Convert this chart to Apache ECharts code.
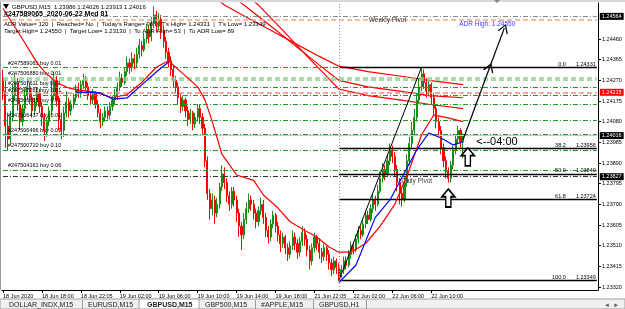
<!DOCTYPE html>
<html><head><meta charset="utf-8">
<script src="https://cdn.jsdelivr.net/npm/echarts@6/dist/echarts.min.js"></script>
<style>html,body{margin:0;padding:0;background:#fff}#c{width:625px;height:309px}</style>
</head><body><div id="c"></div><script>
const FONT = 'Liberation Sans, Arial, sans-serif';
const BASE = 1.23; // values below are pips above 1.23000
const TOTAL_BARS = 245; // includes empty chart-shift area on the right
const timeLabels = ['18 Jun 2020','18 Jun 18:00','18 Jun 22:05','19 Jun 02:00','19 Jun 06:00','19 Jun 10:00','19 Jun 14:00','19 Jun 18:00','21 Jun 22:05','22 Jun 02:00','22 Jun 06:00','22 Jun 10:00'];
const timeLabelBars = [0,16,32,48,64,80,96,112,128,144,160,176];
const yTicks = [1.24460,1.24365,1.24270,1.24175,1.24080,1.23985,1.23890,1.23795,1.23700,1.23605,1.23510,1.23415,1.23320];
const Y_MIN = 1.233062, Y_MAX = 1.246255;
// [open, close, low, high] in pips above BASE
const bars = [
[128,122,118,132],[122,106,96,127],[106,100,95,112],[100,110,98,113],[110,120,108,125],[120,126,118,130],[126,116,113,128],[116,108,104,118],[108,114,106,116],[114,120,112,123],
[120,124,118,128],[124,119,116,126],[119,113,110,121],[113,117,111,119],[117,121,115,124],[121,115,112,123],[115,110,106,117],[110,104,99,112],[104,108,101,110],[108,113,106,115],
[113,120,111,127],[120,127,118,131],[127,118,115,129],[118,109,104,120],[109,104,100,112],[104,112,101,115],[112,117,110,122],[117,113,110,119],[113,116,111,118],[116,119,114,121],
[119,123,117,125],[123,121,119,126],[121,125,119,127],[125,127,123,130],[127,124,122,129],[124,120,118,126],[120,118,116,122],[118,121,116,123],[121,116,114,122],[116,112,110,118],
[112,108,105,114],[108,110,106,112],[110,113,108,115],[113,111,109,115],[111,115,109,117],[115,118,113,120],[118,120,116,123],[120,124,118,126],[124,128,122,131],[128,126,124,130],
[126,131,125,133],[131,135,129,138],[135,133,130,137],[133,137,131,140],[137,135,132,139],[135,139,133,142],[139,143,137,146],[143,141,138,145],[141,146,140,149],[146,150,144,153],
[150,147,144,152],[147,153,145,156],[153,157,151,161],[157,152,149,159],[152,155,150,158],[155,150,146,157],[150,145,142,152],[145,140,137,147],[140,136,133,142],[136,132,129,138],
[132,127,124,134],[127,124,121,129],[124,119,116,126],[119,115,112,121],[115,118,113,120],[118,113,110,119],[113,109,106,115],[109,112,107,114],[112,107,104,113],[107,110,105,112],
[110,114,108,116],[114,110,107,116],[110,105,102,112],[105,90,87,107],[90,75,72,92],[75,68,63,77],[68,72,65,75],[72,66,61,74],[66,70,64,73],[70,78,68,80],
[78,84,76,88],[84,80,77,87],[80,74,71,82],[74,70,67,76],[70,76,68,78],[76,72,69,78],[72,66,62,74],[66,60,55,68],[60,56,49,62],[56,63,54,66],
[63,68,61,71],[68,72,66,75],[72,70,67,74],[70,66,63,72],[66,62,59,68],[62,67,60,69],[67,70,65,73],[70,64,61,72],[64,58,55,66],[58,55,52,60],
[55,61,53,63],[61,65,59,67],[65,60,57,66],[60,56,53,62],[56,52,48,58],[52,55,50,57],[55,50,47,56],[50,47,44,52],[47,51,45,53],[51,55,49,58],
[55,52,49,57],[52,48,45,54],[48,53,46,55],[53,57,51,60],[57,54,51,59],[54,49,46,56],[49,44,40,51],[44,50,42,52],[50,55,48,57],[55,52,49,56],
[52,48,45,54],[48,46,43,50],[46,50,44,52],[50,47,44,51],[47,43,40,49],[43,40,37,45],[40,44,38,46],[44,41,38,45],[41,37,34.9,43],[37,40,36,42],
[40,44,38,46],[44,42,40,46],[42,47,41,49],[47,51,45,53],[51,49,47,53],[49,54,48,56],[54,58,52,60],[58,56,54,60],[56,61,55,63],[61,65,59,67],
[65,63,61,67],[63,68,62,70],[68,72,66,75],[72,70,67,74],[70,76,69,79],[76,82,75,85],[82,86,80,89],[86,84,81,88],[84,90,83,93],[90,95,88,98],
[95,92,89,97],[92,86,83,94],[86,80,76,88],[80,75,70,82],[75,72,69,78],[72,80,71,83],[80,90,78,93],[90,98,88,101],[98,104,96,108],[104,110,102,114],
[110,118,108,121],[118,124,116,128],[124,130,122,133.1],[130,126,123,132],[126,122,119,128],[122,125,120,127],[125,119,116,126],[119,114,111,121],[114,108,105,116],[108,104,101,110],
[104,96,93,106],[96,90,87,98],[90,85,82,92],[85,82,80,87],[82,88,80,90],[88,95,86,97],[95,100,93,102],[100,104,98,106],[104,98.6,96,105],[98.6,101.6,91.3,102.6]
];
// moving averages: [bar index, pips]
const redFastMA = [[0,160],[8,146],[14,135],[17,131],[22,126],[27,123.5],[31,122.5],[38,121.6],[45,119],[51,120.5],[57,126],[63,133],[68,136],[73,131],[80,124],[83,118],[86,108],[90,93],[96,83.5],[103,81],[107,74.3],[113,68.3],[118,62],[124,58],[129,55],[134,50.4],[138,48],[143,48],[149,52],[155,60],[161,70],[167,86],[172,102],[177,111],[182,110],[189,108]];
const blueMA = [[30,121.6],[36,121.5],[40,121.2],[45,118.4],[51,118.9],[57,124.9],[63,130.8],[68,135.4],[69,null],[138,34],[145,42],[153,64],[159,72],[164,82.6],[170,95],[175,102.8],[180,100.5],[185,97.3],[189,98.7]];
const slowMA1 = [[86,166],[91,161.6],[100,156],[110,150],[120,144],[130,138],[138,133.5],[150,131],[163,129],[175,127],[189,125]];
const slowMA2 = [[94,166],[99,161.6],[110,152],[120,143],[130,134],[138,127],[150,124],[163,122],[175,120],[189,119]];
const slowMA3 = [[100,166],[105,161.6],[115,150],[125,138],[132,130],[138,123],[150,120],[163,118],[175,116],[189,114]];
// horizontal levels (prices)
const orderLevels = [1.24331,1.24281,1.24272,1.24239,1.24203,1.24161,1.24088,1.24023,1.23950,1.23858];
const orderLabels = ['#247589065 buy 0.01','#247506880 buy 0.01','','#247507611 buy 0.01','#247507265 buy 0.01','#247506685 buy 0.01','#247506437 buy 0.01','#247506496 buy 0.01','#247500710 buy 0.10','#247504161 buy 0.06'];
const weeklyPivot = 1.24564, adrHigh = 1.24550, pinkLevel = 1.24215, bidPrice = 1.24016, dailyPivot = 1.23827;
const fibLevels = ['0.0','38.2','50.0','61.8','100.0'];
const fibPrices = [1.24331,1.23956,1.23840,1.23724,1.23349];
const fibStartBar = 138;
const trendFrom = [138, 1.23349], trendTo = [172, 1.24331];
const handArrow = [[189,1.23996],[200,1.24330],[206,1.24510]];
const hollowArrows = [[191,1.23918],[183,1.23729]];
const tabs = ['DOLLAR_INDX,M15','EURUSD,M15','GBPUSD,M15','GBP500,M15','#APPLE,M15','GBPUSD,H1'];

const toP = p => p == null ? null : Math.round((BASE + p / 10000) * 1e6) / 1e6;
const categories = Array.from({length: TOTAL_BARS}, (_, i) => {
  const k = timeLabelBars.indexOf(i); return k >= 0 ? timeLabels[k] : '';
});
const showLbl = (idx, val) => val !== '';
const LAST = TOTAL_BARS - 1;

const greenDash = [5,2,1,2];
const markLines = [];
const hline = (v, lineStyle, label) => [{coord: [0, v], lineStyle, label: label || {show: false}}, {coord: [LAST, v]}];
const boxLabel = (v, bg) => ({show: true, position: 'end', distance: 3, formatter: v.toFixed(5), backgroundColor: bg, color: '#fff', padding: [1,2,0,2], fontSize: 5.5, fontFamily: FONT});
orderLevels.forEach((v, k) => {
  const light = (k === 1 || k === 2);
  markLines.push(hline(v, {color: light ? '#8fd18f' : '#1f9a1f', width: light ? 1.6 : 1, type: light ? [5,3] : greenDash},
    {show: !!orderLabels[k], position: 'insideStartTop', formatter: orderLabels[k], distance: [5, 1], color: '#000', fontSize: 5.5, fontFamily: FONT}));
});
markLines.push(hline(adrHigh, {color: '#f4a582', width: 1.6, type: [5,3]}));
markLines.push(hline(weeklyPivot, {color: '#888', width: 1, type: greenDash}, boxLabel(weeklyPivot, '#000')));
markLines.push(hline(pinkLevel, {color: '#f08a8a', width: 1.6, type: [5,3]}, boxLabel(pinkLevel, '#ff0000')));
markLines.push(hline(bidPrice, {color: '#c8c8c8', width: 1, type: 'solid'}, boxLabel(bidPrice, '#000')));
markLines.push(hline(dailyPivot, {color: '#333', width: 1, type: greenDash}, boxLabel(dailyPivot, '#000')));
fibPrices.forEach((v, k) => {
  markLines.push([{coord: [fibStartBar, v], lineStyle: {color: '#000', width: 1.3, type: 'solid'},
    label: {show: true, position: 'insideEndTop', distance: [1, 0], formatter: '{a|' + fibLevels[k] + '}{b|' + v.toFixed(5) + '}',
      rich: {a: {fontSize: 5.5, color: '#000', fontFamily: FONT}, b: {fontSize: 5.5, color: '#000', width: 30, align: 'right', fontFamily: FONT}}}},
    {coord: [LAST, v]}]);
});
markLines.push([{coord: trendFrom, lineStyle: {color: '#000', width: 1, type: 'solid'}, label: {show: false}}, {coord: trendTo}]);
const chevron = 'path://M0,10 L5,0 L10,10 L8.6,10 L5,2.6 L1.4,10 Z';
markLines.push([{coord: handArrow[0], symbol: 'none', lineStyle: {color: '#000', width: 1.2, type: 'solid'}, label: {show: false}}, {coord: handArrow[1], symbol: chevron, symbolSize: [11, 9]}]);
markLines.push([{coord: handArrow[1], symbol: 'none', lineStyle: {color: '#000', width: 1.2, type: 'solid'}, label: {show: false}}, {coord: handArrow[2], symbol: chevron, symbolSize: [11, 9]}]);
markLines.push([{coord: [fibStartBar, Y_MIN], lineStyle: {color: '#999', width: 1, type: [1,2]}, label: {show: false}}, {coord: [fibStartBar, Y_MAX]}]);

const blockArrow = 'path://M5,0 L10,6 L7,6 L7,14 L3,14 L3,6 L0,6 Z';
const txt = (coord, text, color, size) => ({coord, symbol: 'rect', symbolSize: 1, itemStyle: {color: 'rgba(0,0,0,0)'},
  label: {show: true, position: 'inside', formatter: text, color, fontSize: size, fontFamily: FONT}});
const markPoints = [
  ...hollowArrows.map(c => ({coord: c, symbol: blockArrow, symbolSize: [13, 18], itemStyle: {color: '#fff', borderColor: '#000', borderWidth: 1.6}, label: {show: false}})),
  txt([158, 1.24547], 'Weekly Pivot', '#333', 6.5),
  txt([199, 1.24529], 'ADR High: 1.24550', '#3b3bff', 6.5),
  txt([170, 1.23807], 'Daily Pivot', '#444', 6.5),
  txt([203, 1.23987], '<--04:00', '#000', 11)
];

const lineS = (data, color, z) => ({type: 'line', data: data.map(d => [d[0], toP(d[1])]), showSymbol: false, connectNulls: false, silent: true, z,
  lineStyle: {color, width: 1.2}, animation: false});

const chart = echarts.init(document.getElementById('c'), null, {renderer: 'canvas'});
chart.setOption({
  animation: false,
  backgroundColor: '#fff',
  grid: {left: 0, right: 27, top: 3, bottom: 19},
  xAxis: {type: 'category', data: categories, boundaryGap: true,
    axisLine: {lineStyle: {color: '#000', width: 1}},
    axisTick: {show: true, interval: showLbl, alignWithLabel: true, length: 3, lineStyle: {color: '#000'}},
    axisLabel: {interval: showLbl, align: 'left', fontSize: 5.5, color: '#000', margin: 3, fontFamily: FONT},
    splitLine: {show: false}},
  yAxis: {type: 'value', position: 'right', min: Y_MIN, max: Y_MAX, scale: true,
    splitLine: {show: false},
    axisLine: {show: true, lineStyle: {color: '#000', width: 1}},
    axisTick: {show: true, customValues: yTicks, length: 3, lineStyle: {color: '#000'}},
    axisLabel: {customValues: yTicks, formatter: v => v.toFixed(5), fontSize: 5.5, margin: 4, color: '#000', fontFamily: FONT}},
  series: [
    {type: 'line', data: bars.map((b, i) => [i, toP(b[1])]), showSymbol: false, lineStyle: {opacity: 0}, silent: true, z: 1,
      markLine: {symbol: 'none', silent: true, animation: false, data: markLines}},
    lineS(slowMA1, '#ff0000', 3), lineS(slowMA2, '#ff0000', 3), lineS(slowMA3, '#ff0000', 3),
    {type: 'candlestick', data: bars.map(b => b.map(toP)), barWidth: 1.6, silent: true, z: 4,
      itemStyle: {color: '#1a8c1a', color0: '#ff0000', borderColor: '#1a8c1a', borderColor0: '#ff0000', borderWidth: 1}},
    lineS(redFastMA, '#ff0000', 5), lineS(blueMA, '#0000ff', 5),
    {type: 'line', data: [], silent: true, z: 6, markPoint: {silent: true, animation: false, data: markPoints}}
  ],
  graphic: [
    {type: 'rect', shape: {x: 0, y: 0, width: 625, height: 2}, style: {fill: '#d8d8d8'}, z: 50},
    {type: 'polygon', shape: {points: [[494,0],[500,0],[497,3]]}, style: {fill: '#888'}, z: 51},
    {type: 'line', shape: {x1: 0.5, y1: 2, x2: 0.5, y2: 290}, style: {stroke: '#999', lineWidth: 1}, z: 50},
    {type: 'polygon', shape: {points: [[3,4],[9,4],[6,9]]}, style: {fill: '#000'}, z: 51},
    {type: 'text', x: 12, y: 7, style: {text: 'GBPUSD,M15  1.23986 1.24026 1.23913 1.24016', fill: '#000', font: '6px ' + FONT, verticalAlign: 'middle'}, z: 51},
    {type: 'text', x: 4, y: 14.5, style: {text: '#247589065  2020-06-22 Med 81', fill: '#000', font: 'bold 7px ' + FONT, verticalAlign: 'middle'}, z: 51},
    {type: 'text', x: 4, y: 24, style: {text: "ADR Value= 120  |  Reached= No  |  Today's Range= 98  |  T's High= 1.24331  |  T's Low= 1.23349", fill: '#000', font: '6px ' + FONT, verticalAlign: 'middle'}, z: 51},
    {type: 'text', x: 4, y: 31, style: {text: 'Target High= 1.24550  |  Target Low= 1.23130  |  To ADR High= 53  |  To ADR Low= 89', fill: '#000', font: '6px ' + FONT, verticalAlign: 'middle'}, z: 51},
    {type: 'rect', shape: {x: 0, y: 299, width: 625, height: 10}, style: {fill: '#f0f0f0', stroke: '#a0a0a0', lineWidth: 1}, z: 50},
    {type: 'rect', shape: {x: 139, y: 299, width: 60, height: 10}, style: {fill: '#fff', stroke: '#a0a0a0', lineWidth: 1}, z: 51},
    ...[82, 255, 313, 366].map(x => ({type: 'line', shape: {x1: x + 0.5, y1: 300, x2: x + 0.5, y2: 309}, style: {stroke: '#999', lineWidth: 1}, z: 51})),
    ...tabs.map((t, k) => ({type: 'text', x: [9, 88, 147, 205, 261, 319][k], y: 302, style: {text: t, fill: '#222', font: (k === 2 ? 'bold ' : '') + '7px ' + FONT, verticalAlign: 'top'}, z: 52})),
    {type: 'text', x: 604, y: 302, style: {text: '◄  ►', fill: '#555', font: '6px ' + FONT, verticalAlign: 'top'}, z: 52}
  ]
});
</script></body></html>
